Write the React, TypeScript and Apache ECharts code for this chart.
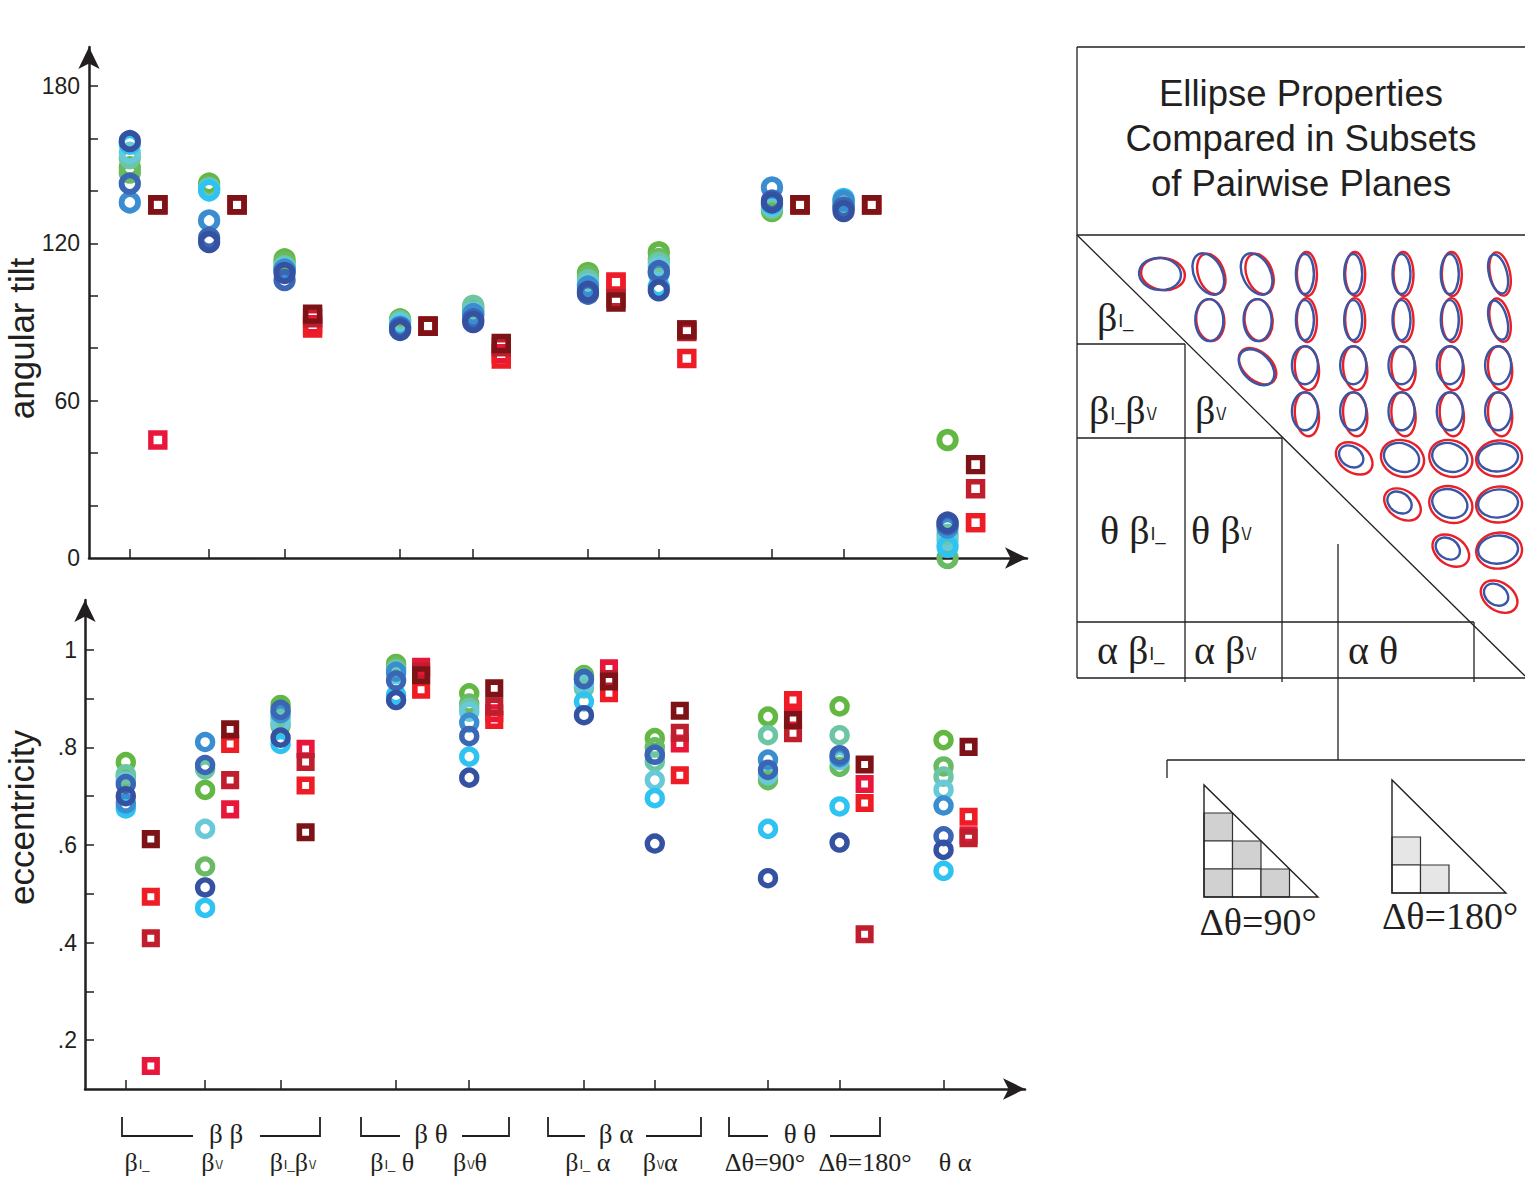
import React, { useEffect, useRef } from "react";
import * as echarts from "echarts";

// ---------- data ----------
const categoryLabels = [
  "{b|β}{s|I_}",
  "{b|β}{s|\\/}",
  "{b|β}{s|I_}{b|β}{s|\\/}",
  "{b|β}{s|I_}{b| θ}",
  "{b|β}{s|\\/}{b|θ}",
  "{b|β}{s|I_}{b| α}",
  "{b|β}{s|\\/}{b|α}",
  "{b|Δθ=90°}",
  "{b|Δθ=180°}",
  "{b|θ α}",
];
// x position of each category on the shared value axis
const categoryPos = [0.53, 1.56, 2.54, 4.04, 4.99, 6.48, 7.4, 8.87, 9.8, 11.15];
// horizontal nudge of each category label relative to its tick
const labelNudge = [0.145, 0.09, 0.16, -0.05, 0.01, 0.05, 0.07, -0.04, 0.33, 0.15];

const tiltTicks = [20, 40, 60, 80, 100, 120, 140, 160, 180];
const tiltLabels = [0, 60, 120, 180];
const eccTicks = [0.2, 0.3, 0.4, 0.5, 0.6, 0.7, 0.8, 0.9, 1.0];
const eccLabels = [0.2, 0.4, 0.6, 0.8, 1.0];

// angular tilt, circles (8 planes subsets)
const tiltGreen = [149, 142.8, 113.9, 91, 95.6, 108.7, 116.6, 132.3, 134, 45];
const tiltGreen2 = [147, 141.5, 112.6, 90.5, 94.5, 107.4, 114, 133, 134.5, 0];
const tiltSeafoam = [152.5, 141, 111.3, 90.3, 96.2, 106, 112.6, 133.6, 135.5, 8.9];
const tiltLightTeal = [154.5, 140.5, 110.5, 89.5, 93.6, 104.5, 111, 134.5, 134, 6.9];
const tiltCyan = [158, 140.2, 110, 88.4, 92.5, 102.8, 103.5, 135, 136.9, 4.3];
const tiltMidBlue = [135.6, 128.7, 110, 88, 93, 103.5, 108.7, 141.3, 136.3, 11.6];
const tiltDarkBlue = [142.8, 122, 106, 87.7, 91, 100.8, 109.4, 136.3, 133.6, 12.9];
const tiltNavy = [159, 120.5, 108.7, 87, 90, 101.5, 102.1, 135.6, 132.3, 13.5];
// angular tilt, squares
const tiltCrimson = [45, 134.7, 89, 88.4, 77.9, 105.2, 87, 134.7, 134.7, 13.5];
const tiltBright = [134.7, 134.7, 87.7, 88.4, 75.9, 105.2, 76.1, 134.7, 134.7, 13.5];
const tiltMidRed = [134.7, 134.7, 91.6, 88.4, 80.5, 98.9, 86.4, 134.7, 134.7, 26.4];
const tiltDarkRed = [134.7, 134.7, 93, 88.4, 81.8, 97.6, 87, 134.7, 134.7, 35.6];

// eccentricity, circles
const eccGreen = [0.77, 0.713, 0.887, 0.971, 0.911, 0.948, 0.819, 0.863, 0.884, 0.815];
const eccGreen2 = [0.74, 0.556, 0.845, 0.965, 0.89, 0.945, 0.8, 0.733, 0.76, 0.761];
const eccSeafoam = [0.745, 0.755, 0.86, 0.96, 0.881, 0.921, 0.771, 0.825, 0.825, 0.74];
const eccLightTeal = [0.73, 0.633, 0.85, 0.95, 0.873, 0.93, 0.733, 0.743, 0.774, 0.713];
const eccCyan = [0.675, 0.471, 0.807, 0.907, 0.781, 0.894, 0.696, 0.633, 0.679, 0.547];
const eccMidBlue = [0.685, 0.811, 0.87, 0.955, 0.851, 0.94, 0.785, 0.775, 0.78, 0.681];
const eccDarkBlue = [0.725, 0.764, 0.877, 0.937, 0.823, 0.94, 0.785, 0.754, 0.784, 0.618];
const eccNavy = [0.7, 0.513, 0.82, 0.897, 0.738, 0.866, 0.603, 0.532, 0.605, 0.59];
// eccentricity, squares
const eccCrimson = [0.147, 0.673, 0.797, 0.965, 0.87, 0.962, 0.808, 0.86, 0.725, 0.62];
const eccBright = [0.494, 0.807, 0.722, 0.918, 0.856, 0.911, 0.743, 0.897, 0.686, 0.658];
const eccMidRed = [0.409, 0.733, 0.77, 0.955, 0.884, 0.94, 0.83, 0.829, 0.417, 0.614];
const eccDarkRed = [0.612, 0.837, 0.626, 0.948, 0.921, 0.935, 0.875, 0.856, 0.765, 0.801];

// ---------- styles ----------
const INK = "#231f20";
const circleColors = ["#63b844", "#69ba62", "#6cc5a3", "#68cad9", "#2ec3f1", "#3a8dd0", "#3a66b4", "#3551a1"];
const squareColors = ["#e9163c", "#ee1c25", "#bf1e2d", "#7d1316"];
const tiltCircles = [tiltGreen, tiltGreen2, tiltSeafoam, tiltLightTeal, tiltCyan, tiltMidBlue, tiltDarkBlue, tiltNavy];
const tiltSquares = [tiltCrimson, tiltBright, tiltMidRed, tiltDarkRed];
const eccCircles = [eccGreen, eccGreen2, eccSeafoam, eccLightTeal, eccCyan, eccMidBlue, eccDarkBlue, eccNavy];
const eccSquares = [eccCrimson, eccBright, eccMidRed, eccDarkRed];

const PX_PER_UNIT = 77;
const TOP_W = 938;
const BOT_W = 940;
const TOP_SQ_OFFSET = 0.364;
const BOT_SQ_OFFSET = 0.325;

function scatter(values: number[], color: string, axis: number, shape: string, size: number, bw: number, dx: number) {
  return {
    type: "scatter",
    xAxisIndex: axis,
    yAxisIndex: axis,
    symbol: shape,
    symbolSize: size,
    data: values.map((v, i) => [categoryPos[i] + dx, v]),
    itemStyle: { color: "rgba(0,0,0,0)", borderColor: color, borderWidth: bw, opacity: 1 },
    emphasis: { disabled: true },
    silent: true,
    z: 3,
  };
}

const L = (x1: number, y1: number, x2: number, y2: number, w = 1.3) => ({
  type: "line",
  silent: true,
  shape: { x1, y1, x2, y2 },
  style: { stroke: INK, lineWidth: w },
});

const greekRich = {
  g: { fontFamily: "Liberation Serif", fontSize: 40, color: INK },
  s: { fontFamily: "Liberation Sans", fontSize: 18, color: INK, verticalAlign: "bottom", padding: [0, 0, 7, 1] },
};

function buildGraphic() {
  const g: any[] = [];
  // title box
  g.push(L(1077, 47, 1525, 47));
  g.push(L(1077, 47, 1077, 678));
  g.push(L(1077, 235, 1525, 235));
  g.push({
    type: "text",
    x: 1301,
    y: 138,
    silent: true,
    style: {
      text: "Ellipse Properties\nCompared in Subsets\nof Pairwise Planes",
      align: "center",
      verticalAlign: "middle",
      fontFamily: "Liberation Sans",
      fontSize: 36.5,
      lineHeight: 45,
      fill: INK,
    },
  });
  // matrix frame
  g.push(L(1077, 678, 1525, 678));
  g.push(L(1077, 235, 1525, 676));
  g.push(L(1077, 344, 1185, 344));
  g.push(L(1185, 344, 1185, 682));
  g.push(L(1077, 438, 1282, 438));
  g.push(L(1282, 438, 1282, 682));
  g.push(L(1077, 622, 1474, 622));
  g.push(L(1474, 622, 1474, 682));
  g.push(L(1338, 544, 1338, 760));
  g.push(L(1167, 760, 1525, 760));
  g.push(L(1167, 760, 1167, 778));

  const labels = [
    { x: 1097, y: 317, t: "{g|β}{s|I_}" },
    { x: 1089, y: 410, t: "{g|β}{s|I_}{g|β}{s|\\/}" },
    { x: 1195, y: 410, t: "{g|β}{s|\\/}" },
    { x: 1100, y: 530, t: "{g|θ β}{s|I_}" },
    { x: 1191, y: 530, t: "{g|θ β}{s|\\/}" },
    { x: 1097, y: 650, t: "{g|α β}{s|I_}" },
    { x: 1194, y: 650, t: "{g|α β}{s|\\/}" },
    { x: 1348, y: 650, t: "{g|α θ}" },
  ];
  labels.forEach((l) =>
    g.push({
      type: "text",
      x: l.x,
      y: l.y,
      silent: true,
      style: { text: l.t, align: "left", verticalAlign: "middle", rich: greekRich, fill: INK },
    })
  );

  // ellipse matrix
  const ell = (cx: number, cy: number, p: number[], color: string) => ({
    type: "ellipse",
    silent: true,
    x: cx + (p[3] || 0),
    y: cy + (p[4] || 0),
    rotation: p[2],
    shape: { cx: 0, cy: 0, rx: p[0], ry: p[1] },
    style: { fill: "none", stroke: color, lineWidth: 2.4 },
  });
  for (let r = 0; r < 8; r++) {
    for (let c = r; c < 8; c++) {
      const cx = 1161 + c * 48.3;
      const cy = 274 + r * 46.1;
      let red: number[];
      let blue: number[];
      if (r === 0 && c === 0) {
        red = [22, 16, -0.15, 2, 0];
        blue = [21, 16, -0.1, -1, 0];
      } else if (r === 0 && c <= 2) {
        red = [13, 21, 0.35, 2, 0];
        blue = [14, 22, 0.45, -1, 0];
      } else if (r === 1 && c <= 2) {
        red = [14, 21, 0.1, 1, 0];
        blue = [14, 21, 0.03, 0, 0];
      } else if (r === 2 && c === 2) {
        red = [22, 14, -0.75, 0, 0];
        blue = [21, 14, -0.8, -1, 1];
      } else if (r <= 1) {
        red = [10, 22, c === 7 ? 0.2 : 0.02, 1, 0];
        blue = [9, 20, c === 7 ? 0.25 : 0, -1, 0];
      } else if (r <= 3) {
        red = [12, 22, 0.1, 1, 2];
        blue = [13, 19, 0, -1, -1];
      } else if (c === r) {
        red = [20, 14, -0.6, 0, 0];
        blue = [13, 10, -0.6, -3, -2];
      } else if (c === 7) {
        red = [23, 18, 0.1, 0, 0];
        blue = [20, 14, 0.1, -1, -1];
      } else {
        red = [22, 18, -0.35, 0, 0];
        blue = [18, 14, -0.35, -1, -1];
      }
      g.push(ell(cx, cy, red, "#e8202a"));
      g.push(ell(cx, cy, blue, "#3a55a4"));
    }
  }

  // Δθ triangles
  const sq = (x: number, y: number, fill: string) => ({
    type: "rect",
    silent: true,
    shape: { x, y, width: 28.5, height: 28 },
    style: { fill, stroke: "#333", lineWidth: 1.2 },
  });
  g.push(sq(1204, 813, "#d1d1d1"), sq(1204, 841, "#fff"), sq(1232.5, 841, "#d1d1d1"));
  g.push(sq(1204, 869, "#d1d1d1"), sq(1232.5, 869, "#fff"), sq(1261, 869, "#d1d1d1"));
  g.push({
    type: "polygon",
    silent: true,
    shape: { points: [[1204, 785], [1204, 897], [1318, 897]] },
    style: { fill: "none", stroke: INK, lineWidth: 1.4 },
  });
  g.push(sq(1392, 837, "#e6e6e6"), sq(1392, 865, "#fff"), sq(1420.5, 865, "#e6e6e6"));
  g.push({
    type: "polygon",
    silent: true,
    shape: { points: [[1392, 780], [1392, 893], [1506, 893]] },
    style: { fill: "none", stroke: INK, lineWidth: 1.4 },
  });
  g.push({
    type: "text", x: 1258, y: 922, silent: true,
    style: { text: "Δθ=90°", align: "center", verticalAlign: "middle", fontFamily: "Liberation Serif", fontSize: 38, fill: INK },
  });
  g.push({
    type: "text", x: 1450, y: 916, silent: true,
    style: { text: "Δθ=180°", align: "center", verticalAlign: "middle", fontFamily: "Liberation Serif", fontSize: 38, fill: INK },
  });

  // group brackets under the lower x axis
  const groups = [
    { a: 122, b: 193, t: "β β", tx: 226, c: 260, d: 320 },
    { a: 361, b: 400, t: "β θ", tx: 431, c: 462, d: 509 },
    { a: 548, b: 585, t: "β α", tx: 616, c: 646, d: 701 },
    { a: 729, b: 768, t: "θ θ", tx: 800, c: 830, d: 880 },
  ];
  groups.forEach((q) => {
    g.push({
      type: "polyline", silent: true,
      shape: { points: [[q.a, 1117], [q.a, 1136], [q.b, 1136]] },
      style: { fill: "none", stroke: INK, lineWidth: 1.8 },
    });
    g.push({
      type: "polyline", silent: true,
      shape: { points: [[q.c, 1136], [q.d, 1136], [q.d, 1117]] },
      style: { fill: "none", stroke: INK, lineWidth: 1.8 },
    });
    g.push({
      type: "text", x: q.tx, y: 1134, silent: true,
      style: { text: q.t, align: "center", verticalAlign: "middle", fontFamily: "Liberation Serif", fontSize: 27, fill: INK },
    });
  });
  return g;
}

const axisLine = {
  show: true,
  onZero: false,
  symbol: ["none", "arrow"],
  symbolSize: [16, 22],
  lineStyle: { color: INK, width: 2.5 },
};

const labelValues = categoryPos.map((p, i) => p + labelNudge[i]);
function labelFor(v: number) {
  const i = labelValues.findIndex((p) => Math.abs(p - v) < 0.005);
  return i >= 0 ? categoryLabels[i] : "";
}

export default function App() {
  const ref = useRef<HTMLDivElement>(null);
  useEffect(() => {
    if (!ref.current) return;
    const chart = echarts.init(ref.current, undefined, { renderer: "svg" });
    const series: any[] = [];
    tiltCircles.forEach((v, i) => series.push(scatter(v, circleColors[i], 0, "circle", 16.5, 5.8, 0)));
    tiltSquares.forEach((v, i) => series.push(scatter(v, squareColors[i], 0, "rect", 14, 5.4, TOP_SQ_OFFSET)));
    eccCircles.forEach((v, i) => series.push(scatter(v, circleColors[i], 1, "circle", 15, 5.4, 0)));
    eccSquares.forEach((v, i) => series.push(scatter(v, squareColors[i], 1, "rect", 12.5, 5.6, BOT_SQ_OFFSET)));

    chart.setOption({
      animation: false,
      backgroundColor: "#fff",
      textStyle: { fontFamily: "Liberation Sans" },
      grid: [
        { left: 89, top: 47, width: TOP_W, height: 511, outerBoundsMode: "none" },
        { left: 85, top: 600, width: BOT_W, height: 489, outerBoundsMode: "none" },
      ],
      xAxis: [
        {
          type: "value", gridIndex: 0, min: 0, max: TOP_W / PX_PER_UNIT,
          axisLine,
          axisTick: { show: true, inside: true, length: 9, customValues: categoryPos, lineStyle: { color: INK, width: 1.5 } },
          axisLabel: { show: false },
          splitLine: { show: false },
        },
        {
          type: "value", gridIndex: 1, min: 0, max: BOT_W / PX_PER_UNIT,
          axisLine,
          axisTick: { show: true, inside: true, length: 9, customValues: categoryPos, lineStyle: { color: INK, width: 1.5 } },
          axisLabel: {
            show: true,
            margin: 60,
            customValues: labelValues,
            formatter: (v: number) => labelFor(v),
            rich: {
              b: { fontFamily: "Liberation Serif", fontSize: 26, color: INK },
              s: { fontFamily: "Liberation Sans", fontSize: 13, color: INK, verticalAlign: "bottom", padding: [0, 0, 4, 1] },
            },
            hideOverlap: false,
            showMinLabel: true,
            showMaxLabel: true,
          },
          splitLine: { show: false },
        },
      ],
      yAxis: [
        {
          type: "value", gridIndex: 0, min: 0, max: 511 / (472 / 180),
          name: "angular tilt", nameLocation: "middle", nameGap: 50, nameMoveOverlap: false,
          nameTextStyle: { fontSize: 35, color: INK, fontFamily: "Liberation Sans", padding: [0, 72, 0, 0] },
          axisLine,
          axisTick: { show: true, inside: true, length: 9, customValues: tiltTicks, lineStyle: { color: INK, width: 1.5 } },
          axisLabel: { customValues: tiltLabels, color: INK, fontSize: 23, margin: 9 },
          splitLine: { show: false },
        },
        {
          type: "value", gridIndex: 1, min: 0.1, max: 0.1 + 489 / 488,
          name: "eccentricity", nameLocation: "middle", nameGap: 46, nameMoveOverlap: false,
          nameTextStyle: { fontSize: 35, color: INK, fontFamily: "Liberation Sans", padding: [0, 0, 0, 54] },
          axisLine,
          axisTick: { show: true, inside: true, length: 9, customValues: eccTicks, lineStyle: { color: INK, width: 1.5 } },
          axisLabel: {
            customValues: eccLabels, color: INK, fontSize: 23, margin: 8,
            formatter: (v: number) => (Math.abs(v - 1) < 1e-6 ? "1" : "." + Math.round(v * 10)),
          },
          splitLine: { show: false },
        },
      ],
      graphic: buildGraphic(),
      series,
    });
    return () => chart.dispose();
  }, []);
  return (
    <div
      ref={ref}
      style={{ position: "absolute", left: 0, top: 0, width: 1525, height: 1181, background: "#fff" }}
    />
  );
}
